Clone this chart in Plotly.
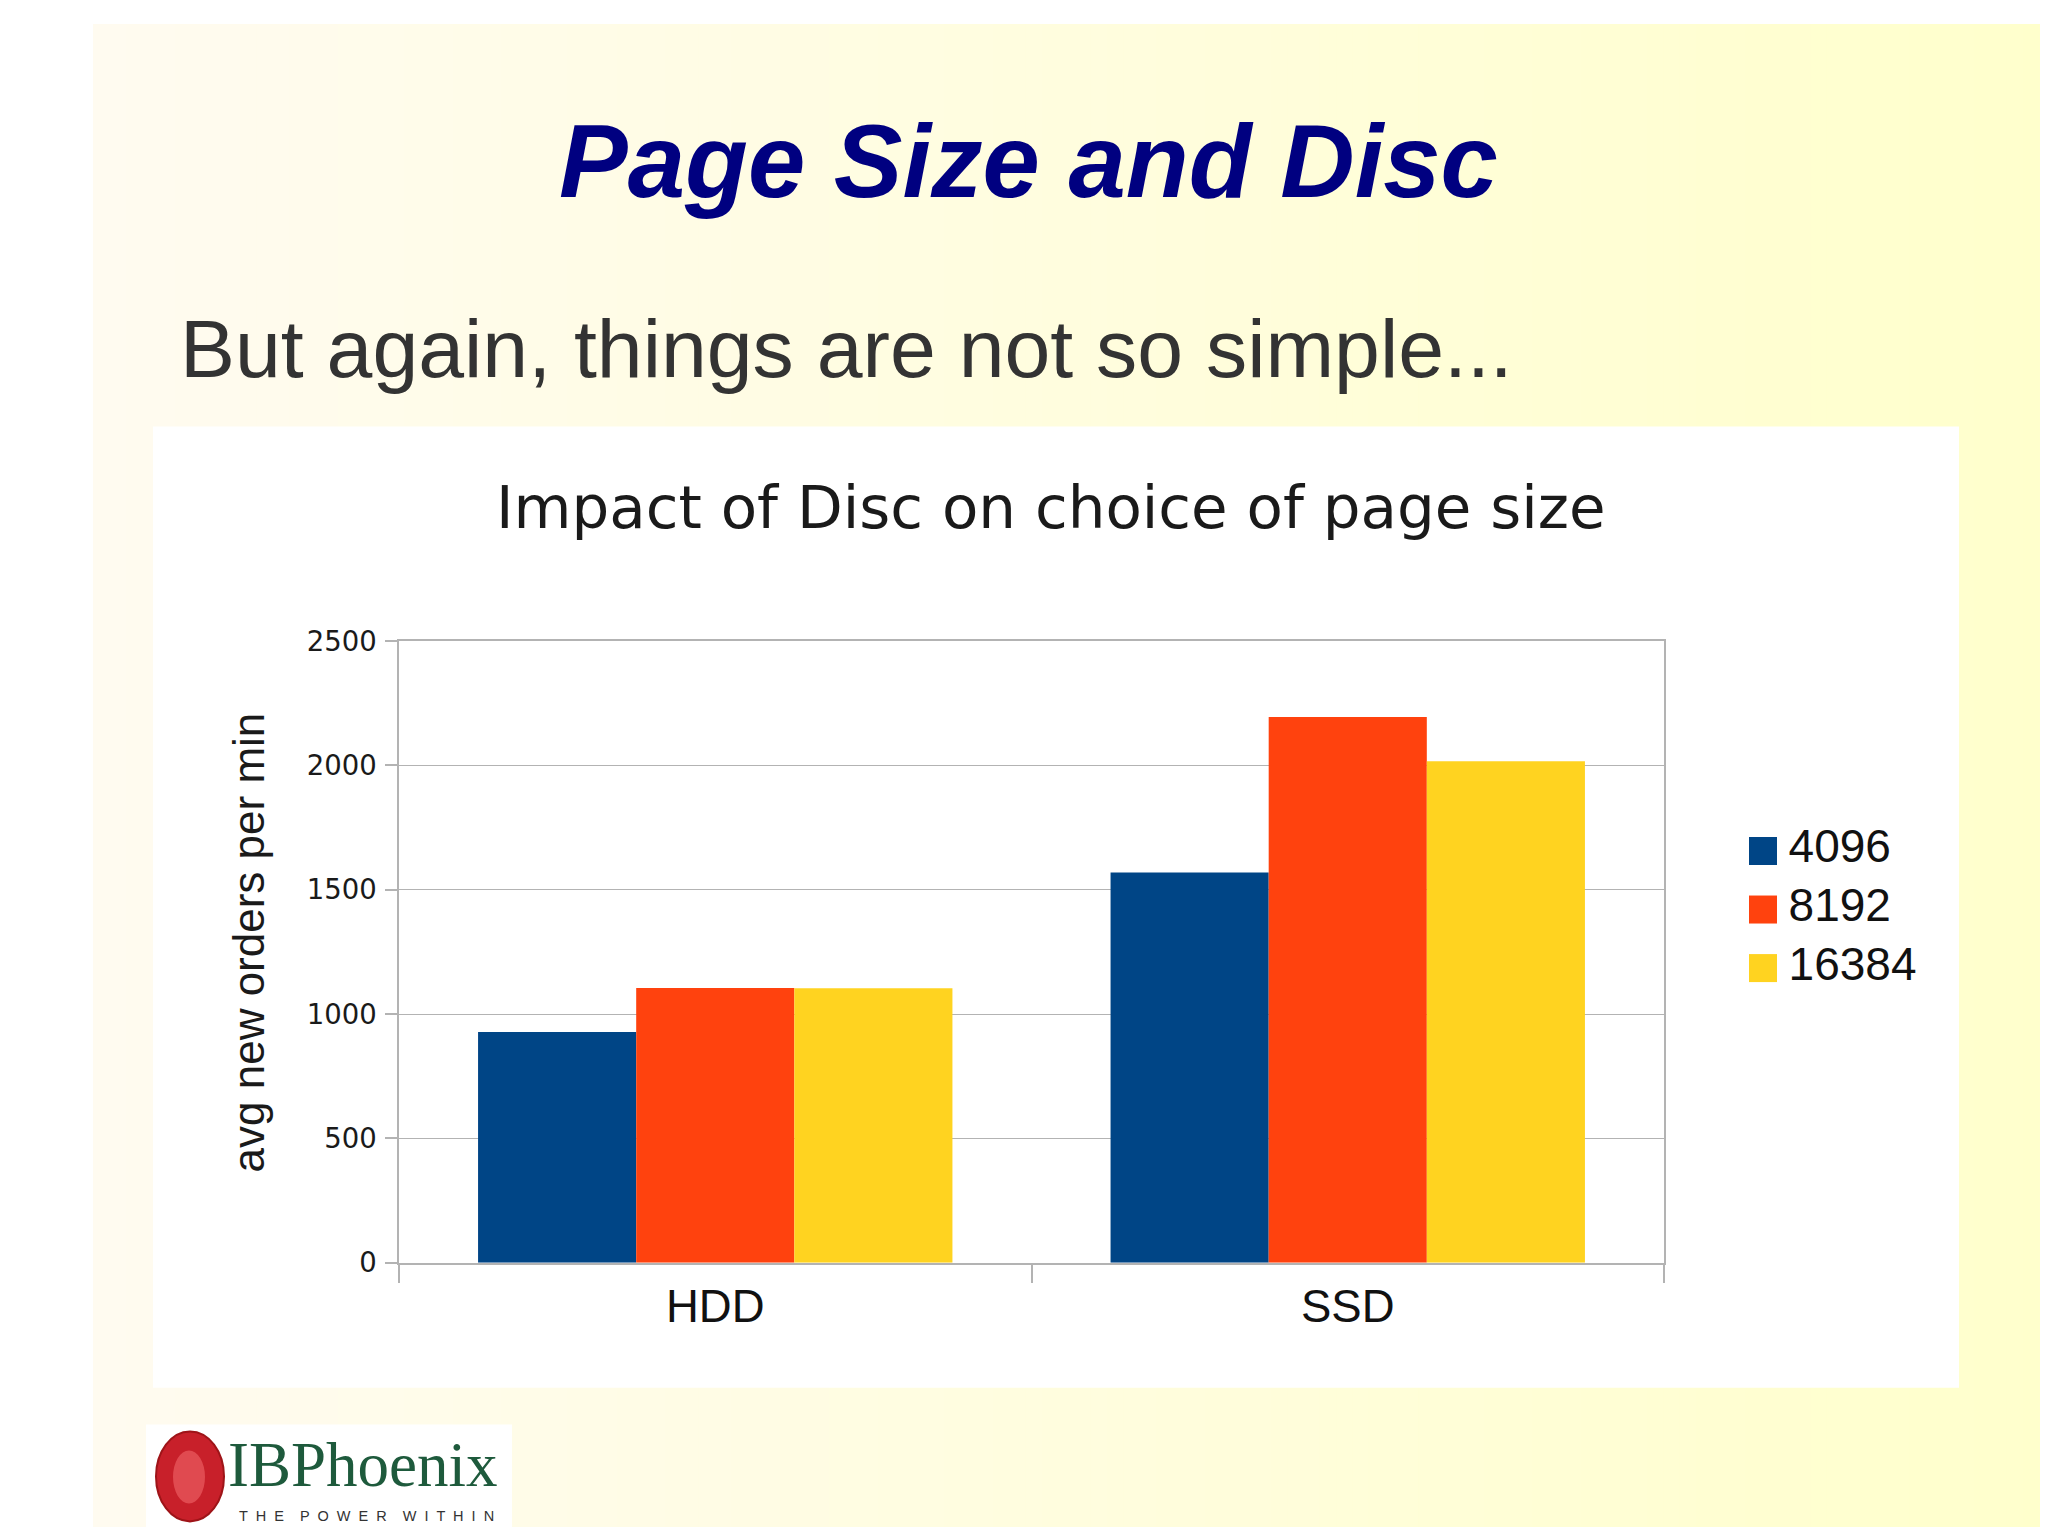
import plotly.graph_objects as go

# ---------------- data ----------------
categories = ["HDD", "SSD"]
page_sizes = ["4096", "8192", "16384"]
vals_4096 = [928, 1569]
vals_8192 = [1105, 2195]
vals_16384 = [1104, 2017]
series_values = [vals_4096, vals_8192, vals_16384]
series_colors = ["#004586", "#FF420E", "#FFD320"]
y_ticks = [0, 500, 1000, 1500, 2000, 2500]

slide_title = "Page Size and Disc"
slide_subtitle = "But again, things are not so simple..."
chart_title = "Impact of Disc on choice of page size"
y_title = "avg new orders per min"

W, H = 2048, 1535
X_OFF = 8          # page offset of the figure (horizontal)
Y_OFF, Y_SC = 20.8, 0.981  # observed vertical placement of the figure on the page


def px(x):
    return (x - X_OFF) / W


def py(y):
    return 1 - ((y - Y_OFF) / Y_SC) / H


fig = go.Figure()

for name, vals, col in zip(page_sizes, series_values, series_colors):
    fig.add_trace(go.Bar(
        x=categories, y=vals, name=name, marker=dict(color=col, line=dict(width=0)),
        showlegend=False, xaxis="x", yaxis="y",
    ))

# legend drawn as a small scatter on an auxiliary axis
legend_pos = list(range(len(page_sizes)))
fig.add_trace(go.Scatter(
    x=[0] * len(page_sizes), y=legend_pos, mode="markers",
    marker=dict(symbol="square", size=28, color=series_colors, line=dict(width=0)),
    showlegend=False, xaxis="x2", yaxis="y2", cliponaxis=False, hoverinfo="skip",
))
fig.add_trace(go.Scatter(
    x=[1.3] * len(page_sizes), y=legend_pos, mode="text", text=page_sizes,
    textposition="middle right",
    textfont=dict(family="Liberation Sans", size=46, color="#111111"),
    showlegend=False, xaxis="x2", yaxis="y2", cliponaxis=False, hoverinfo="skip",
))

# ---------------- background ----------------
shapes = []
n = 120
x_start = 93
c0 = (255, 251, 240)
c1 = (255, 255, 204)
step = (W + X_OFF - x_start) / n
for i in range(n):
    t = i / (n - 1)
    c = tuple(round(c0[k] + (c1[k] - c0[k]) * t) for k in range(3))
    shapes.append(dict(
        type="rect", xref="paper", yref="paper",
        x0=px(x_start + i * step), x1=px(x_start + (i + 1) * step + 1),
        y0=0, y1=1, fillcolor="rgb(%d,%d,%d)" % c, line=dict(width=0), layer="below",
    ))
# white chart panel
shapes.append(dict(type="rect", xref="paper", yref="paper",
                   x0=px(153), x1=px(1959), y0=py(1387), y1=py(424),
                   fillcolor="#FFFFFF", line=dict(width=0), layer="below"))
# logo panel
shapes.append(dict(type="rect", xref="paper", yref="paper",
                   x0=px(146), x1=px(512), y0=0, y1=py(1424),
                   fillcolor="#FFFFFF", line=dict(width=0), layer="below"))
# logo emblem
shapes.append(dict(type="circle", xref="paper", yref="paper",
                   x0=px(156), x1=px(224), y0=py(1521), y1=py(1431),
                   fillcolor="#C8202A", line=dict(color="#9E1418", width=2), layer="above"))
shapes.append(dict(type="circle", xref="paper", yref="paper",
                   x0=px(173), x1=px(205), y0=py(1503), y1=py(1450),
                   fillcolor="#E04A50", line=dict(width=0), layer="above"))

annotations = [
    dict(text="<b><i>" + slide_title + "</i></b>", x=px(1028), y=py(159), xref="paper", yref="paper",
         xanchor="center", yanchor="middle", showarrow=False,
         font=dict(family="Liberation Sans", size=103, color="#000080")),
    dict(text=slide_subtitle, x=px(178), y=py(345.5), xref="paper", yref="paper",
         xanchor="left", yanchor="middle", showarrow=False,
         font=dict(family="Liberation Sans", size=82.4, color="#333333")),
    dict(text=chart_title, x=px(1051), y=py(505), xref="paper", yref="paper",
         xanchor="center", yanchor="middle", showarrow=False,
         font=dict(family="DejaVu Sans", size=59.5, color="#1a1a1a")),
    dict(text=y_title, x=px(248), y=py(941), xref="paper", yref="paper",
         xanchor="center", yanchor="middle", showarrow=False, textangle=-90,
         font=dict(family="Liberation Sans", size=44, color="#1a1a1a")),
    dict(text="IBPhoenix", x=px(363), y=py(1465), xref="paper", yref="paper",
         xanchor="center", yanchor="middle", showarrow=False,
         font=dict(family="Liberation Serif", size=63, color="#1E5A3C")),
    dict(text="T  H  E    P  O  W  E  R    W  I  T  H  I  N", x=px(366), y=py(1515.5), xref="paper", yref="paper",
         xanchor="center", yanchor="middle", showarrow=False,
         font=dict(family="Liberation Sans", size=14.5, color="#333333")),
]

grid_col = "#B3B3B3"
fig.update_layout(
    width=W, height=H,
    margin=dict(l=0, r=0, t=0, b=0),
    paper_bgcolor="#FFFFFF", plot_bgcolor="#FFFFFF",
    barmode="group", bargap=0.25, bargroupgap=0,
    shapes=shapes, annotations=annotations,
    xaxis=dict(
        domain=[px(399), px(1664)], type="category",
        showline=True, linecolor=grid_col, linewidth=1.5, mirror=True,
        ticks="outside", tickson="boundaries", ticklen=18, tickcolor=grid_col, tickwidth=1.5,
        ticklabelstandoff=3,
        tickfont=dict(family="Liberation Sans", size=45.5, color="#111111"),
        showgrid=False, anchor="y",
    ),
    yaxis=dict(
        domain=[py(1262), py(639)], range=[0, 2500],
        tickmode="array", tickvals=y_ticks, ticktext=[str(v) for v in y_ticks],
        showline=True, linecolor=grid_col, linewidth=1.5, mirror=True,
        ticks="outside", ticklen=12, tickcolor=grid_col, tickwidth=1.5,
        ticklabelstandoff=3,
        showgrid=True, gridcolor=grid_col, gridwidth=1.3,
        zeroline=False,
        tickfont=dict(family="DejaVu Sans", size=27.5, color="#1a1a1a"),
        anchor="x",
    ),
    xaxis2=dict(domain=[px(1763), px(1960)], range=[0, 10], visible=False, anchor="y2"),
    yaxis2=dict(domain=[py(996), py(820)], range=[2.5, -0.5], visible=False, anchor="x2"),
)

fig.write_html("out.html")
